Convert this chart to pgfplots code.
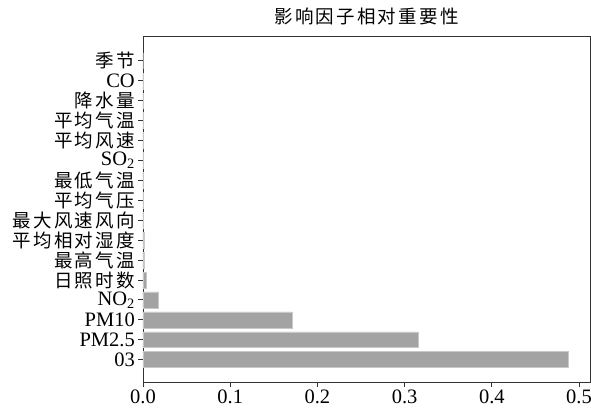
\documentclass[border=0pt]{standalone}
\usepackage{fontspec}
\setmainfont{Liberation Serif}
\newfontfamily\cjkfont[LetterSpace=12]{Noto Sans CJK SC}
\newcommand\cjk{\fontsize{18.5}{20}\selectfont\cjkfont}
\usepackage{pgfplots}
\pgfplotsset{compat=1.18}
\usepackage{pgfplotstable}
\definecolor{barc}{HTML}{A3A3A3}
\definecolor{baredge}{HTML}{C8C8C8}
\definecolor{axc}{HTML}{333333}
\pgfplotstableread{
y val
0 0.488
1 0.316
2 0.171
3 0.018
4 0.0034
5 0.0012
6 0.0012
7 0.0008
8 0.0006
9 0.0005
10 0.0004
11 0.0003
12 0.0003
13 0.0002
14 0.0001
15 0.0000
}\datatab
\begin{document}
\begin{tikzpicture}
\begin{axis}[
  scale only axis,
  width=447pt, height=346pt,
  xmin=0, xmax=0.5126,
  ymin=-1.12, ymax=16.25,
  xbar, bar width=0.8,
  axis line style={axc, line width=0.9pt},
  tick style={axc, line width=0.9pt},
  tick align=outside,
  major tick length=5pt,
  xtick={0,0.1,0.2,0.3,0.4,0.5},
  xticklabels={0.0,0.1,0.2,0.3,0.4,0.5},
  ytick={0,...,15},
  yticklabels={03,PM2.5,PM10,NO\textsubscript{2},{\cjk 日照时数},{\cjk 最高气温},{\cjk 平均相对湿度},{\cjk 最大风速风向},{\cjk 平均气压},{\cjk 最低气温},SO\textsubscript{2},{\cjk 平均风速},{\cjk 平均气温},{\cjk 降水量},CO,{\cjk 季节}},
  xtick pos=bottom, ytick pos=left,
  ticklabel style={font=\fontsize{20.5}{22}\selectfont},
  yticklabel style={inner sep=1pt, xshift=-2pt},
  xticklabel style={inner sep=1pt, yshift=-2pt},
  /pgf/number format/assume math mode=true,
  title={\cjkfont\fontsize{18.5}{20}\selectfont 影响因子相对重要性},
  title style={yshift=1pt},
]
\addplot[draw=baredge, fill=barc, line width=0.5pt] table[x=val, y=y] {\datatab};
\coordinate (sw) at (rel axis cs:0,0);
\coordinate (ne) at (rel axis cs:1,1);
\end{axis}
\pgfresetboundingbox
\path ([shift={(-143pt,-31.3pt)}]sw) rectangle ([shift={(1pt,36pt)}]ne);
\end{tikzpicture}
\end{document}
